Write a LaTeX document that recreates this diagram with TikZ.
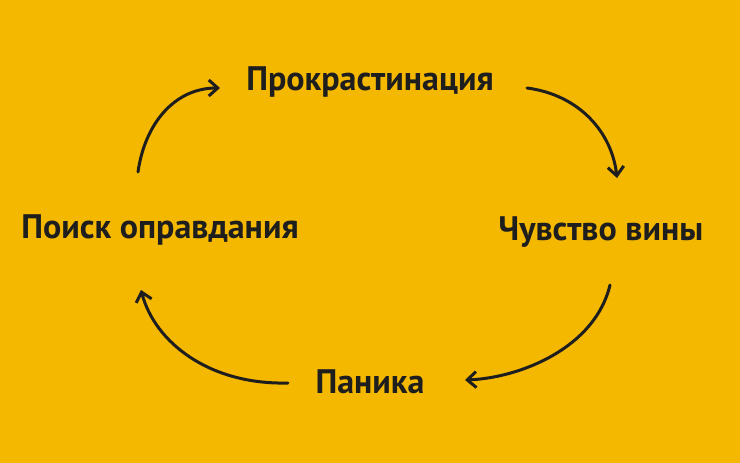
\documentclass[tikz,border=0pt]{standalone}
\usepackage{fontspec}
\setmainfont{PT Sans}
\usetikzlibrary{arrows.meta}
\definecolor{bg}{HTML}{F5B800}
\definecolor{ink}{HTML}{1E1E1E}
\begin{document}
\begin{tikzpicture}[x=1pt,y=1pt,
  lbl/.style={text=ink,font=\bfseries\fontsize{34}{38}\selectfont,inner sep=0pt},
  arr/.style={draw=ink,line width=3pt,line cap=round,-{Straight Barb[length=9pt,width=16pt,line width=3pt]}}]
\fill[bg] (0,0) rectangle (740,463);
\node[lbl] (p) at (370,381) {Прокрастинация};
\node[lbl] (v) at (601,231) {Чувство вины};
\node[lbl] (k) at (370,81) {Паника};
\node[lbl] (o) at (160,233) {Поиск оправдания};
\coordinate (a1) at (527,375);
\coordinate (b1) at (617,285);
\coordinate (a2) at (610,178);
\coordinate (b2) at (465,83);
\coordinate (a3) at (288,80);
\coordinate (b3) at (141,173);
\coordinate (a4) at (138,291);
\coordinate (b4) at (220,375);
\draw[arr] (a1) .. controls (580,368) and (612,330) .. (b1);
\draw[arr] (a2) .. controls (595,115) and (520,85) .. (b2);
\draw[arr] (a3) .. controls (210,78) and (155,120) .. (b3);
\draw[arr] (a4) .. controls (145,340) and (175,375) .. (b4);
\end{tikzpicture}
\end{document}
